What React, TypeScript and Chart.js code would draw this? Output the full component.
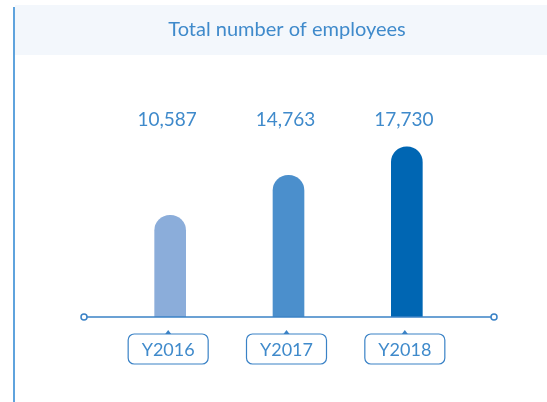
import React, { useEffect, useRef } from "react";
import { Chart, registerables } from "chart.js";

Chart.register(...registerables);

const titleText = "Total number of employees";
const categories = ["Y2016", "Y2017", "Y2018"];
const employees = [10587, 14763, 17730];
const valueLabels = ["10,587", "14,763", "17,730"];
const barColors = ["#8badda", "#4b8fcc", "#0066b3"];

const FONT = "Lato, 'Open Sans', sans-serif";
const TEXT_BLUE = "#3f8acb";
const LINE_BLUE = "#3a82c6";

const decorPlugin = {
  id: "decor",
  beforeDraw(chart: any) {
    const ctx = chart.ctx as CanvasRenderingContext2D;
    const w = chart.width;
    const h = chart.height;
    ctx.save();
    ctx.fillStyle = "#ffffff";
    ctx.fillRect(0, 0, w, h);
    // header band
    ctx.fillStyle = "#f3f7fc";
    ctx.fillRect(15, 5, w - 15, 50);
    // left accent line
    ctx.fillStyle = "#5fa3dd";
    ctx.fillRect(13, 7, 2, h - 7);
    // title
    ctx.fillStyle = TEXT_BLUE;
    ctx.font = `20px ${FONT}`;
    ctx.textAlign = "center";
    ctx.textBaseline = "middle";
    ctx.fillText(titleText, 287, 30);
    ctx.restore();
  },
  afterDatasetsDraw(chart: any) {
    const ctx = chart.ctx as CanvasRenderingContext2D;
    const area = chart.chartArea;
    const xs = chart.scales.x;
    const axisY = area.bottom;
    ctx.save();
    // axis line
    const x0 = area.left - 27;
    const x1 = area.right + 28;
    ctx.strokeStyle = LINE_BLUE;
    ctx.lineWidth = 1.5;
    ctx.beginPath();
    ctx.moveTo(x0 + 3, axisY);
    ctx.lineTo(x1 - 3, axisY);
    ctx.stroke();
    ctx.fillStyle = "#ffffff";
    for (const cx of [x0, x1]) {
      ctx.beginPath();
      ctx.arc(cx, axisY, 3, 0, Math.PI * 2);
      ctx.fill();
      ctx.stroke();
    }
    // value labels and category boxes
    categories.forEach((cat, i) => {
      const cx = xs.getPixelForValue(i);
      ctx.fillStyle = TEXT_BLUE;
      ctx.font = `19px ${FONT}`;
      ctx.textAlign = "center";
      ctx.textBaseline = "middle";
      ctx.fillText(valueLabels[i], cx - 3, 120);

      const bx = cx - 2;
      const bw = 80;
      const bh = 30;
      const left = bx - bw / 2;
      const top = axisY + 17;
      ctx.strokeStyle = LINE_BLUE;
      ctx.lineWidth = 1.2;
      ctx.fillStyle = "#ffffff";
      ctx.beginPath();
      (ctx as any).roundRect(left, top, bw, bh, 6);
      ctx.fill();
      ctx.stroke();
      // small triangle marker
      ctx.fillStyle = LINE_BLUE;
      ctx.beginPath();
      ctx.moveTo(bx - 3, top);
      ctx.lineTo(bx + 3, top);
      ctx.lineTo(bx, top - 4);
      ctx.closePath();
      ctx.fill();
      ctx.fillStyle = TEXT_BLUE;
      ctx.font = `18px ${FONT}`;
      ctx.fillText(cat, bx, top + bh / 2 + 1);
    });
    ctx.restore();
  },
};

export default function App() {
  const ref = useRef<HTMLCanvasElement>(null);
  useEffect(() => {
    if (!ref.current) return;
    const chart = new Chart(ref.current, {
      type: "bar",
      data: {
        labels: categories,
        datasets: [
          {
            data: employees,
            backgroundColor: barColors,
            barThickness: 31,
            borderRadius: { topLeft: 16, topRight: 16, bottomLeft: 0, bottomRight: 0 },
            borderSkipped: "bottom",
          },
        ],
      },
      options: {
        animation: false,
        responsive: false,
        maintainAspectRatio: false,
        layout: { padding: { left: 111, right: 81, top: 125, bottom: 85 } },
        plugins: {
          legend: { display: false },
          tooltip: { enabled: false },
          title: { display: false },
        },
        scales: {
          x: { display: false, offset: true },
          y: { display: false, min: 0, max: 20000 },
        },
      },
      plugins: [decorPlugin],
    });
    return () => chart.destroy();
  }, []);
  return (
    <div style={{ position: "absolute", left: 0, top: 0, width: 547, height: 402 }}>
      <canvas ref={ref} width={547} height={402} style={{ display: "block" }} />
    </div>
  );
}
